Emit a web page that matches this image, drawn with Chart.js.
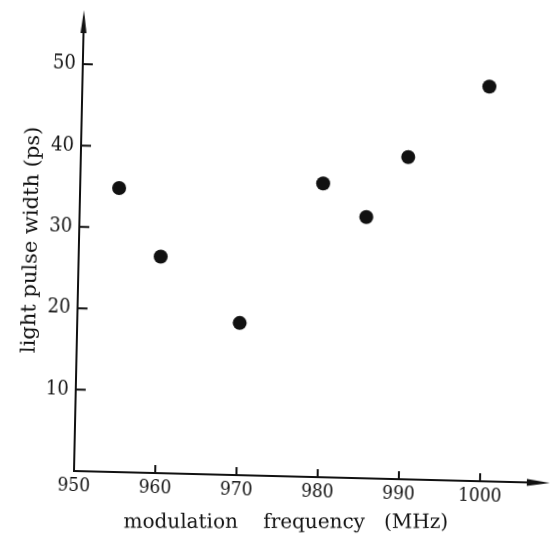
<!DOCTYPE html>
<html><head><meta charset="utf-8">
<script src="https://cdn.jsdelivr.net/npm/chart.js@4"></script>
<style>
html,body{margin:0;padding:0;background:#fff;}
#wrap{position:relative;width:557px;height:536px;overflow:hidden;background:#fff;}
canvas{display:block;transform:matrix(0.99968,0.0252,-0.02169,0.99976,0,0);transform-origin:74px 471px;}
</style></head><body>
<div id="wrap"><canvas id="c" width="557" height="536"></canvas></div>
<script>
const frequencies = [954.8, 960.1, 970.0, 979.9, 985.3, 990.3, 1000.1];
const pulseWidths = [34.9, 26.6, 18.7, 36.1, 32.1, 39.6, 48.5];
const xTickValues = [950, 960, 970, 980, 990, 1000];
const yTickValues = [10, 20, 30, 40, 50];
const xTitle = 'modulation    frequency   (MHz)';
const yTitle = 'light pulse width (ps)';

const INK = '#111';

const axesPlugin = {
  id: 'scanAxes',
  beforeDatasetsDraw(chart) {
    const ctx = chart.ctx;
    const xs = chart.scales.x, ys = chart.scales.y;
    const a = chart.chartArea;
    ctx.save();
    ctx.strokeStyle = INK;
    ctx.fillStyle = INK;
    ctx.lineWidth = 2;
    ctx.lineCap = 'butt';
    ctx.beginPath();
    ctx.moveTo(a.left, a.top + 20);
    ctx.lineTo(a.left, a.bottom);
    ctx.lineTo(a.right - 20, a.bottom);
    ctx.stroke();
    ctx.beginPath();
    ctx.moveTo(a.left, a.top);
    ctx.lineTo(a.left + 3, a.top + 23);
    ctx.lineTo(a.left - 3, a.top + 23);
    ctx.closePath();
    ctx.fill();
    ctx.beginPath();
    ctx.moveTo(a.right, a.bottom);
    ctx.lineTo(a.right - 23, a.bottom - 3.5);
    ctx.lineTo(a.right - 23, a.bottom + 3.5);
    ctx.closePath();
    ctx.fill();
    ctx.beginPath();
    yTickValues.forEach(v => {
      const y = ys.getPixelForValue(v);
      ctx.moveTo(a.left, y);
      ctx.lineTo(a.left + 10, y);
    });
    xTickValues.slice(1).forEach(v => {
      const x = xs.getPixelForValue(v);
      ctx.moveTo(x, a.bottom);
      ctx.lineTo(x, a.bottom - 8);
    });
    ctx.stroke();
    ctx.restore();
  },
  afterDraw(chart) {
    const ctx = chart.ctx;
    const a = chart.chartArea;
    ctx.save();
    ctx.fillStyle = INK;
    ctx.font = '20px "DejaVu Serif"';
    ctx.textAlign = 'center';
    ctx.textBaseline = 'alphabetic';
    ctx.translate(a.left + 213, a.bottom + 51.6);
    ctx.rotate(-0.0245);
    ctx.fillText(xTitle, 0, 0);
    ctx.restore();
    ctx.save();
    ctx.fillStyle = INK;
    ctx.font = '21px "DejaVu Serif"';
    ctx.textAlign = 'center';
    ctx.textBaseline = 'alphabetic';
    ctx.translate(a.left - 42.5, a.bottom - 230);
    ctx.rotate(-Math.PI / 2);
    ctx.fillText(yTitle, 0, 0);
    ctx.restore();
  }
};

new Chart(document.getElementById('c'), {
  type: 'scatter',
  data: {
    datasets: [{
      data: frequencies.map((f, i) => ({ x: f, y: pulseWidths[i] })),
      backgroundColor: INK,
      borderColor: INK,
      borderWidth: 0,
      pointRadius: 7,
      pointHoverRadius: 7
    }]
  },
  options: {
    responsive: false,
    animation: false,
    events: [],
    layout: { padding: { top: 10, right: 7, left: 0, bottom: 0 } },
    plugins: { legend: { display: false }, tooltip: { enabled: false }, title: { display: false } },
    scales: {
      x: {
        type: 'linear',
        min: 950,
        max: 1008.6,
        afterBuildTicks: s => { s.ticks = xTickValues.map(v => ({ value: v })); },
        afterFit: s => { s.height = 65; s.paddingLeft = 0; s.paddingRight = 0; },
        grid: { display: false, drawTicks: false },
        border: { display: false },
        ticks: {
          color: INK,
          padding: 4,
          maxRotation: 0,
          autoSkip: false,
          callback: v => String(v),
          font: { family: '"DejaVu Serif Condensed", "DejaVu Serif", serif', size: 19 }
        }
      },
      y: {
        type: 'linear',
        min: 0,
        max: 56.65,
        afterBuildTicks: s => { s.ticks = yTickValues.map(v => ({ value: v })); },
        afterFit: s => { s.width = 74; s.paddingTop = 0; s.paddingBottom = 0; },
        grid: { display: false, drawTicks: false },
        border: { display: false },
        ticks: {
          color: INK,
          padding: 7,
          autoSkip: false,
          callback: v => String(v),
          font: { family: '"DejaVu Serif Condensed", "DejaVu Serif", serif', size: 20 }
        }
      }
    }
  },
  plugins: [axesPlugin]
});
</script>
</body></html>
